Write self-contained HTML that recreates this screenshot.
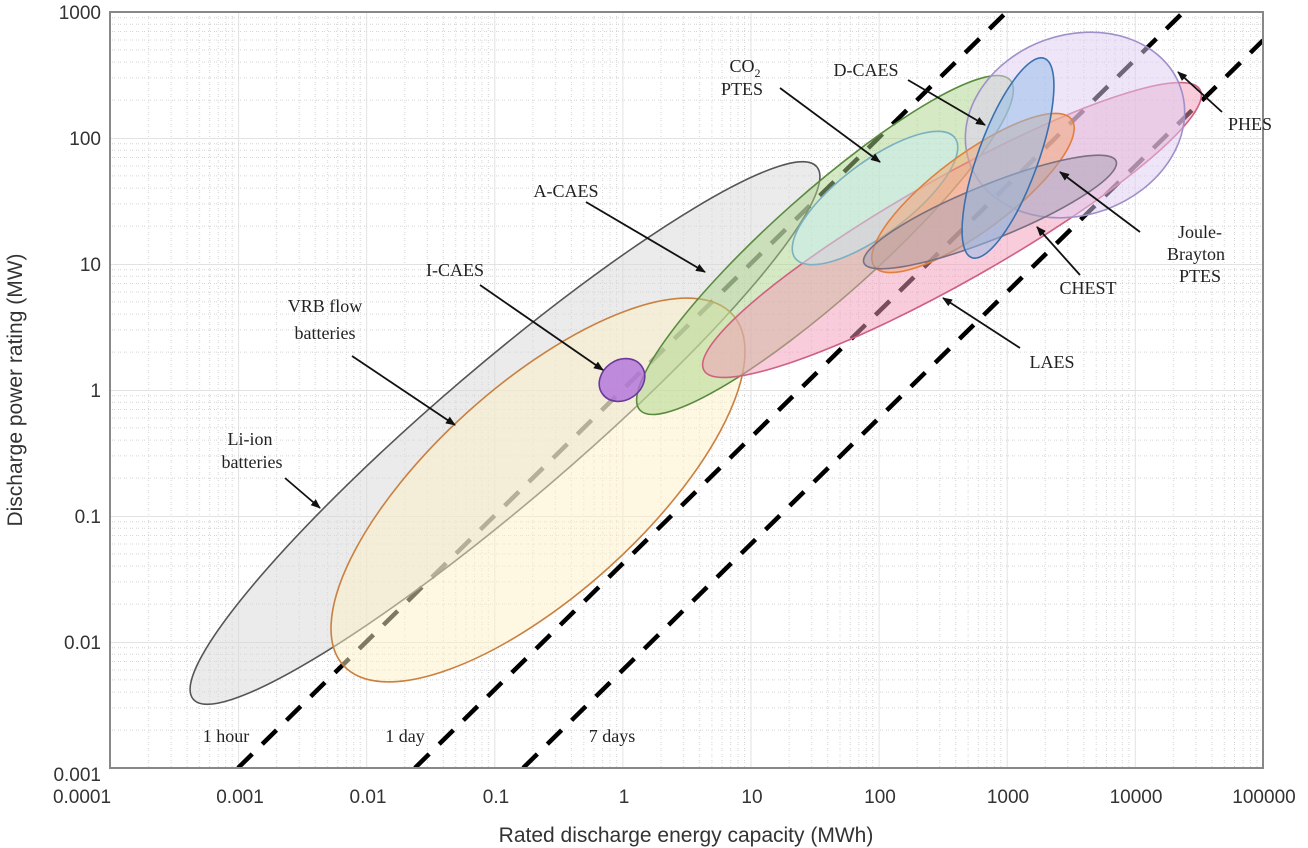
<!DOCTYPE html>
<html><head><meta charset="utf-8"><style>
html,body{margin:0;padding:0;background:#fff;}
svg{display:block;}
.t{font-family:"Liberation Serif",serif;font-size:18px;fill:#222;}
.k{font-family:"Liberation Sans",sans-serif;font-size:19px;fill:#333;}
</style></head><body>
<svg width="1308" height="848" viewBox="0 0 1308 848" xmlns="http://www.w3.org/2000/svg">
<defs>
<pattern id="gv" patternUnits="userSpaceOnUse" x="110" y="0" width="128.1" height="6">
<g stroke="#d4d4d4" stroke-width="1" stroke-dasharray="1,3">
<line x1="38.6" y1="0" x2="38.6" y2="6"/><line x1="61.1" y1="0" x2="61.1" y2="6"/><line x1="77.1" y1="0" x2="77.1" y2="6"/><line x1="89.5" y1="0" x2="89.5" y2="6"/><line x1="99.7" y1="0" x2="99.7" y2="6"/><line x1="108.3" y1="0" x2="108.3" y2="6"/><line x1="115.7" y1="0" x2="115.7" y2="6"/><line x1="122.2" y1="0" x2="122.2" y2="6"/>
</g><line x1="0.5" y1="0" x2="0.5" y2="6" stroke="#e2e2e2" stroke-width="1"/>
</pattern>
<pattern id="gh" patternUnits="userSpaceOnUse" x="0" y="12" width="6" height="126">
<g stroke="#d4d4d4" stroke-width="1" stroke-dasharray="1,3">
<line y1="88.1" x1="0" y2="88.1" x2="6"/><line y1="65.9" x1="0" y2="65.9" x2="6"/><line y1="50.1" x1="0" y2="50.1" x2="6"/><line y1="37.9" x1="0" y2="37.9" x2="6"/><line y1="28" x1="0" y2="28" x2="6"/><line y1="19.5" x1="0" y2="19.5" x2="6"/><line y1="12.2" x1="0" y2="12.2" x2="6"/><line y1="5.8" x1="0" y2="5.8" x2="6"/>
</g><line y1="0.5" x1="0" y2="0.5" x2="6" stroke="#e2e2e2" stroke-width="1"/>
</pattern>
<clipPath id="cp"><rect x="110" y="12" width="1153" height="756"/></clipPath>
<marker id="ar" markerWidth="10" markerHeight="8" refX="9" refY="4" orient="auto" markerUnits="userSpaceOnUse"><path d="M0,0 L10,4 L0,8 z" fill="#111"/></marker>
</defs>
<rect x="110" y="12" width="1153" height="756" fill="url(#gv)"/>
<rect x="110" y="12" width="1153" height="756" fill="url(#gh)"/>
<g clip-path="url(#cp)" stroke="#000" stroke-width="4.5" stroke-dasharray="20,14" fill="none">
<line x1="238" y1="768" x2="1006.6" y2="12"/>
<line x1="414.9" y1="768" x2="1183.5" y2="12"/>
<line x1="523.1" y1="768" x2="1263" y2="40.4"/>
</g>
<g stroke-width="1.6" fill-opacity="0.5">
<ellipse cx="505" cy="433" rx="410" ry="68" transform="rotate(-40.5 505 433)" fill="#d8d8d8" stroke="#555"/>
<ellipse cx="538" cy="490" rx="262" ry="105" transform="rotate(-42 538 490)" fill="#fdf0c4" stroke="#c98040"/>
<ellipse cx="825" cy="245" rx="248" ry="52" transform="rotate(-41.7 825 245)" fill="#acd68a" stroke="#5a8a40"/>
<ellipse cx="622" cy="380" rx="24" ry="20" transform="rotate(-35 622 380)" fill="#b070dc" stroke="#6a3a9a" fill-opacity="0.8"/>
<ellipse cx="952" cy="230" rx="285" ry="52" transform="rotate(-29.5 952 230)" fill="#f29ab8" stroke="#d06080"/>
<ellipse cx="875" cy="198" rx="100" ry="36" transform="rotate(-37 875 198)" fill="#c8ecf4" stroke="#7ab0c0"/>
<ellipse cx="1075" cy="125" rx="112" ry="90" transform="rotate(-20 1075 125)" fill="#ddccf4" stroke="#a090c8"/>
<ellipse cx="973" cy="193" rx="123" ry="38" transform="rotate(-36.7 973 193)" fill="#f4a870" stroke="#e08040"/>
<ellipse cx="990" cy="212" rx="136" ry="27" transform="rotate(-22 990 212)" fill="#a8a0b4" stroke="#7a7080"/>
<ellipse cx="1008" cy="158" rx="106" ry="30" transform="rotate(-70 1008 158)" fill="#90bcea" stroke="#3a70b0"/>
</g>
<rect x="110" y="12" width="1153" height="756" fill="none" stroke="#888" stroke-width="2"/>
<g stroke="#111" stroke-width="1.8" marker-end="url(#ar)">
<line x1="285" y1="478" x2="320" y2="508"/>
<line x1="352" y1="356" x2="455" y2="425"/>
<line x1="480" y1="285" x2="603" y2="370"/>
<line x1="586" y1="202" x2="705" y2="272"/>
<line x1="780" y1="88" x2="880" y2="162"/>
<line x1="908" y1="80" x2="985" y2="125"/>
<line x1="1222" y1="112" x2="1178" y2="72"/>
<line x1="1140" y1="232" x2="1060" y2="172"/>
<line x1="1080" y1="275" x2="1037" y2="227"/>
<line x1="1020" y1="348" x2="943" y2="298"/>
</g>
<g class="t">
<text x="250" y="445" text-anchor="middle">Li-ion</text><text x="252" y="468" text-anchor="middle">batteries</text>
<text x="325" y="312" text-anchor="middle">VRB flow</text><text x="325" y="339" text-anchor="middle">batteries</text>
<text x="455" y="276" text-anchor="middle">I-CAES</text>
<text x="566" y="197" text-anchor="middle">A-CAES</text>
<text x="745" y="72" text-anchor="middle">CO<tspan font-size="12" dy="5">2</tspan></text><text x="742" y="95" text-anchor="middle">PTES</text>
<text x="866" y="76" text-anchor="middle">D-CAES</text>
<text x="1228" y="130">PHES</text>
<text x="1200" y="238" text-anchor="middle">Joule-</text><text x="1196" y="260" text-anchor="middle">Brayton</text><text x="1200" y="282" text-anchor="middle">PTES</text>
<text x="1088" y="294" text-anchor="middle">CHEST</text>
<text x="1052" y="368" text-anchor="middle">LAES</text>
<text x="226" y="742" text-anchor="middle">1 hour</text>
<text x="405" y="742" text-anchor="middle">1 day</text>
<text x="612" y="742" text-anchor="middle">7 days</text>
</g>
<g class="k" text-anchor="middle">
<text x="82" y="803">0.0001</text><text x="240" y="803">0.001</text><text x="368" y="803">0.01</text><text x="496" y="803">0.1</text><text x="624" y="803">1</text><text x="752" y="803">10</text><text x="880" y="803">100</text><text x="1008" y="803">1000</text><text x="1136" y="803">10000</text><text x="1264" y="803">100000</text>
</g>
<g class="k" text-anchor="end">
<text x="101" y="19">1000</text><text x="101" y="145">100</text><text x="101" y="271">10</text><text x="101" y="397">1</text><text x="101" y="523">0.1</text><text x="101" y="649">0.01</text><text x="101" y="781">0.001</text>
</g>
<text x="686" y="842" text-anchor="middle" font-family="Liberation Sans,sans-serif" font-size="21" fill="#333">Rated discharge energy capacity (MWh)</text>
<text transform="translate(22 390) rotate(-90)" text-anchor="middle" font-family="Liberation Sans,sans-serif" font-size="21" fill="#333">Discharge power rating (MW)</text>
</svg>
</body></html>
